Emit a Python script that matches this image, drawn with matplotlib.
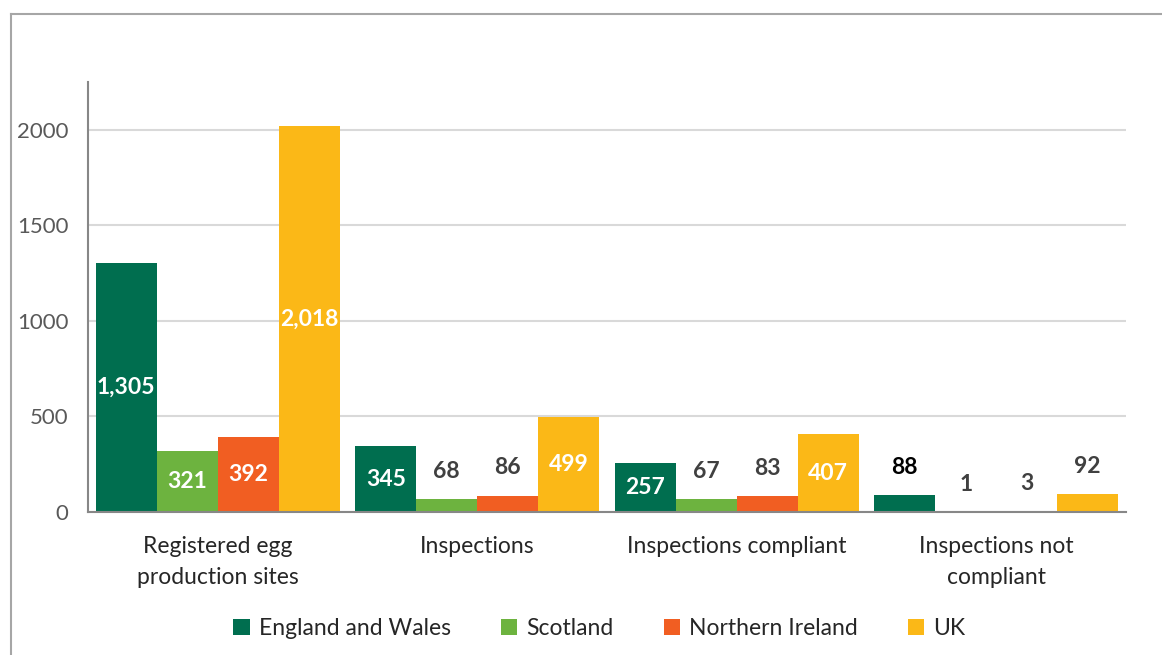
import numpy as np
import matplotlib.pyplot as plt
from matplotlib.lines import Line2D

plt.rcParams['font.family'] = ['Lato', 'DejaVu Sans']

categories = ['Registered egg\nproduction sites', 'Inspections',
              'Inspections compliant', 'Inspections not\ncompliant']
series = ['England and Wales', 'Scotland', 'Northern Ireland', 'UK']
england_wales = [1305, 345, 257, 88]
scotland = [321, 68, 67, 1]
northern_ireland = [392, 86, 83, 3]
uk = [2018, 499, 407, 92]
colors = ['#006E4F', '#6DB33F', '#F15E22', '#FBB817']
# which labels sit inside the bar (white) vs above it
inside = [[True, True, True, False],
          [True, False, False, False],
          [True, False, False, False],
          [True, True, True, False]]

values = [england_wales, scotland, northern_ireland, uk]

fig = plt.figure(figsize=(11.62, 6.55), dpi=100)
ax = fig.add_axes([0.0757, 0.2183, 0.8933, 0.6565])

# frame around the chart area
fig.add_artist(Line2D([0.0095, 0.0095], [0.0, 0.979], color='#a6a6a6', lw=1.5))
fig.add_artist(Line2D([0.0095, 1.0], [0.979, 0.979], color='#a6a6a6', lw=1.5))

x = np.arange(len(categories)) + 0.5
w = 0.235
for i, (name, vals, c) in enumerate(zip(series, values, colors)):
    pos = x + (i - 1.5) * w
    bars = ax.bar(pos, vals, w, color=c, label=name, zorder=2)
    for j, (b, v) in enumerate(zip(bars, vals)):
        lab = f'{v:,}'
        if inside[i][j]:
            ax.text(b.get_x() + w / 2, v / 2, lab, ha='center', va='center',
                    color='white', fontsize=16.5, fontweight='bold', zorder=3)
        else:
            col = '#000000' if (i == 0 and j == 3) else '#404040'
            ax.annotate(lab, (b.get_x() + w / 2, v), xytext=(0, 20),
                        textcoords='offset points', ha='center', va='center',
                        color=col, fontsize=16.5, fontweight='bold')

ax.set_xlim(0, 4)
ax.set_ylim(0, 2250)
ax.set_yticks([0, 500, 1000, 1500, 2000])
ax.set_xticks(x)
ax.set_xticklabels(categories, fontsize=16.5, color='#262626', linespacing=1.6)
ax.tick_params(axis='x', length=0, pad=17)
ax.tick_params(axis='y', length=0, pad=14, labelsize=16, labelcolor='#595959')
ax.grid(axis='y', color='#d9d9d9', lw=1.5, zorder=0)
ax.set_axisbelow(True)
for s in ['top', 'right']:
    ax.spines[s].set_visible(False)
ax.spines['left'].set_color('#878787')
ax.spines['left'].set_linewidth(1.5)
ax.spines['bottom'].set_color('#878787')
ax.spines['bottom'].set_linewidth(1.5)

fig.legend(loc='center', bbox_to_anchor=(0.516, 0.04), ncol=4, frameon=False,
           fontsize=16.5, handlelength=0.7, handleheight=0.7, handletextpad=0.4,
           columnspacing=2.2, labelcolor='#262626')

fig.savefig('out.png', dpi=100)
